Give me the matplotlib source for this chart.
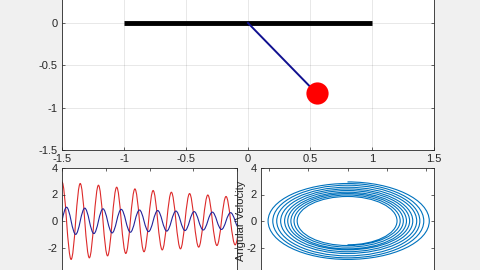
import matplotlib
matplotlib.use("Agg")
import matplotlib.pyplot as plt
from matplotlib.path import Path
from matplotlib.patches import PathPatch

plt.rcParams['font.family'] = ['Liberation Sans', 'DejaVu Sans']
plt.rcParams['axes.unicode_minus'] = False

# ---------------- data ----------------
# pendulum snapshot
support_x = [-1.0, 1.0]
support_y = [0.0, 0.0]
rod_x = [0.0, 0.554]
rod_y = [0.0, -0.832]
bob_x = [0.554]
bob_y = [-0.832]

top_xticks = [-1.5, -1, -0.5, 0, 0.5, 1, 1.5]
top_xlabels = ['-1.5', '-1', '-0.5', '0', '0.5', '1', '1.5']
top_yticks = [-1.5, -1, -0.5, 0]
top_ylabels = ['-1.5', '-1', '-0.5', '0']

# time history (extrema)
t_end = 20.0
period = 2.083
# angle extrema, one per half cycle (at 1/4, 3/4, 5/4 ... periods)
angle_ext = [1.04, -1.01, 0.97, -0.95, 0.92, -0.90, 0.88, -0.85, 0.83, -0.80,
             0.79, -0.76, 0.75, -0.72, 0.71, -0.68, 0.67, -0.64, 0.63, -0.61]
# angular velocity extrema, one per half cycle (at 0, 1/2, 1 ... periods)
vel_ext = [2.95, -2.90, 2.83, -2.78, 2.70, -2.63, 2.55, -2.45, 2.42, -2.32,
           2.30, -2.18, 2.17, -2.10, 2.07, -1.97, 1.96, -1.85, 1.85, -1.80]

bottom_yticks = [-2, 0, 2, 4]
bottom_ylabels = ['-2', '0', '2', '4']
time_xticks = [0, 5, 10, 15, 20]
phase_xticks = [-1, -0.5, 0, 0.5, 1]

# ---------------- helpers (smooth rendering via Bezier paths) ----------------
def wave_path(ts, ys):
    verts = [(ts[0], ys[0])]
    codes = [Path.MOVETO]
    for i in range(len(ts) - 1):
        t0, t1 = ts[i], ts[i + 1]
        y0, y1 = ys[i], ys[i + 1]
        h = t1 - t0
        verts += [(t0 + h / 3, y0 + 0.55 * y1), (t0 + 2 * h / 3, y1 + 0.55 * y0), (t1, y1)]
        codes += [Path.CURVE4] * 3
    return Path(verts, codes)


def loop_path(pts):
    k = 0.5523
    verts = [pts[0]]
    codes = [Path.MOVETO]
    for i in range(len(pts) - 1):
        x0, y0 = pts[i]
        x1, y1 = pts[i + 1]
        verts += [(x0 + k * x1, y0 + k * y1), (x1 + k * x0, y1 + k * y0), (x1, y1)]
        codes += [Path.CURVE4] * 3
    return Path(verts, codes)


q = period / 4.0
angle_t, angle_y, vel_t, vel_y = [0.0], [0.0], [], []
for i in range(len(angle_ext)):
    angle_t += [(2 * i + 1) * q, (2 * i + 2) * q]
    angle_y += [angle_ext[i], 0.0]
for i in range(len(vel_ext)):
    vel_t += [(2 * i) * q, (2 * i + 1) * q]
    vel_y += [vel_ext[i], 0.0]

phase_pts = []
for i in range(len(vel_ext)):
    phase_pts.append((0.0, vel_ext[i]))
    if i < len(vel_ext) - 1:
        phase_pts.append((angle_ext[i], 0.0))

# ---------------- styling ----------------
EDGE = '#262626'
FS = 8


def style(ax):
    for s in ax.spines.values():
        s.set_color(EDGE)
        s.set_linewidth(0.6)
    ax.tick_params(direction='in', length=2.5, width=0.5, colors=EDGE,
                   labelsize=FS, pad=3, top=True, right=True)


fig = plt.figure(figsize=(4.8, 2.7), dpi=100, facecolor='#f0f0f0')

# top: pendulum
ax1 = fig.add_axes([62 / 480, 120 / 270, 372 / 480, 254 / 270])
style(ax1)
ax1.grid(True, color=EDGE, alpha=0.15, linewidth=0.5)
ax1.set_axisbelow(True)
ax1.plot(support_x, support_y, color='black', linewidth=3.5, solid_capstyle='butt', zorder=3)
ax1.plot(rod_x, rod_y, color='#101090', linewidth=1.4, zorder=4)
ax1.plot(bob_x, bob_y, 'o', color='#ff0000', markersize=16, markeredgewidth=0, zorder=5)
ax1.set_xlim(-1.5, 1.5)
ax1.set_ylim(-1.5, 1.5)
ax1.set_xticks(top_xticks)
ax1.set_xticklabels(top_xlabels)
ax1.set_yticks(top_yticks)
ax1.set_yticklabels(top_ylabels)
for yv in [0.5, 1.0]:
    ax1.axhline(yv, color=EDGE, alpha=0.15, linewidth=0.5, zorder=0)

# bottom left: time history
ax2 = fig.add_axes([62 / 480, -4 / 270, 175 / 480, 106 / 270])
style(ax2)
ax2.add_patch(PathPatch(wave_path(vel_t, vel_y), fill=False, edgecolor='#dd2a2a', linewidth=0.8))
ax2.add_patch(PathPatch(wave_path(angle_t, angle_y), fill=False, edgecolor='#23239a', linewidth=0.8))
ax2.set_xlim(0, t_end)
ax2.set_ylim(-4, 4)
ax2.set_xticks(time_xticks)
ax2.set_xticklabels([])
ax2.set_yticks(bottom_yticks)
ax2.set_yticklabels(bottom_ylabels)

# bottom right: phase portrait
ax3 = fig.add_axes([261 / 480, -4 / 270, 173 / 480, 106 / 270])
style(ax3)
ax3.add_patch(PathPatch(loop_path(phase_pts), fill=False, edgecolor='#0072BD', linewidth=0.8))
ax3.set_xlim(-1.1, 1.1)
ax3.set_ylim(-4, 4)
ax3.set_xticks(phase_xticks)
ax3.set_xticklabels([])
ax3.set_yticks(bottom_yticks)
ax3.set_yticklabels(bottom_ylabels)
ax3.set_ylabel('Angular Velocity', fontsize=FS, color=EDGE)
ax3.yaxis.set_label_coords(-0.085, 0.5)

fig.savefig('out.png', dpi=100, facecolor=fig.get_facecolor())
